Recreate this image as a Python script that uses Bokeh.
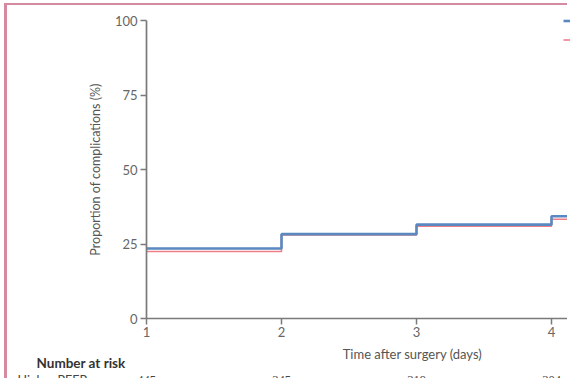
from bokeh.plotting import figure
from bokeh.models import Range1d, Label, LabelSet, Legend, LegendItem, FixedTicker, ColumnDataSource
from bokeh.embed import file_html
from bokeh.resources import INLINE

# ---- data ----
days = [1, 2, 3, 4, 5]
higher_peep = [23.5, 28.3, 31.5, 34.3, 34.3]
lower_peep = [22.5, 28.0, 31.0, 33.3, 33.3]
x_ticks = [1, 2, 3, 4]
y_ticks = [0, 25, 50, 75, 100]
risk_days = [1, 2, 3, 4]
risk_higher = [445, 345, 319, 304]
series_names = ["Higher PEEP group", "Lower PEEP group"]

FONT = "Lato"
BLUE = "#5a88c0"
RED = "#ee7f88"
AXIS = "#7a7a7a"

# ---- geometry (canvas = plot frame) ----
W, H = 563, 375
X0 = 139          # canvas x of day 1
PX_DAY = 135.0    # pixels per day
Y0 = 313          # canvas y of 0 %
PX_PCT = 2.98     # pixels per percent

p = figure(width=W, height=H,
           x_range=Range1d(1 - X0 / PX_DAY, 1 + (W - X0) / PX_DAY),
           y_range=Range1d(-(H - Y0) / PX_PCT, Y0 / PX_PCT),
           min_border_left=0, min_border_right=0, min_border_top=0, min_border_bottom=0,
           output_backend="svg", toolbar_location=None)
p.styles = {"margin-left": "4px", "margin-top": "3px",
            "border-left": "3px solid #d48ba0", "border-top": "2px solid #d48ba0"}
p.outline_line_color = None
p.xgrid.visible = False
p.ygrid.visible = False
p.background_fill_color = "white"
p.border_fill_color = "white"

r_red = p.step(days, lower_peep, mode="after", line_color=RED, line_width=1.6)
r_blue = p.step(days, higher_peep, mode="after", line_color=BLUE, line_width=2.6)

for ax in (p.xaxis[0], p.yaxis[0]):
    ax.axis_line_color = AXIS
    ax.axis_line_width = 1.7
    ax.major_tick_line_color = AXIS
    ax.major_tick_line_width = 1.5
    ax.major_tick_out = 6
    ax.major_tick_in = 0
    ax.minor_tick_line_color = None
    ax.major_label_text_font = FONT
    ax.major_label_text_font_size = "13px"
    ax.major_label_text_color = "#666666"

p.xaxis.fixed_location = 0
p.yaxis.fixed_location = 1
p.xaxis.bounds = (1, days[-1])
p.yaxis.bounds = (0, 100)
p.xaxis.ticker = FixedTicker(ticks=x_ticks)
p.yaxis.ticker = FixedTicker(ticks=y_ticks)
p.xaxis.major_label_standoff = 2
p.yaxis.major_label_standoff = 3
p.yaxis.axis_label = "Proportion of complications (%)"
p.yaxis.axis_label_text_font = FONT
p.yaxis.axis_label_text_font_size = "12.5px"
p.yaxis.axis_label_text_font_style = "normal"
p.yaxis.axis_label_text_color = "#555555"
p.yaxis.axis_label_standoff = 9

def sy(page_y):
    return (318 - page_y) / PX_PCT

def sx(page_x):
    return 1 + (page_x - 146) / PX_DAY

# x axis title
p.add_layout(Label(x=sx(412), y=sy(353), text="Time after surgery (days)", text_align="center",
                   text_baseline="middle", text_font=FONT, text_font_size="13px",
                   text_color="#555555"))

# number at risk
p.add_layout(Label(x=sx(36), y=sy(362), text="Number at risk", text_align="left",
                   text_baseline="middle", text_font=FONT, text_font_size="13.5px",
                   text_font_style="bold", text_color="#333333"))
p.add_layout(Label(x=sx(17), y=sy(379.5), text=series_names[0], text_align="left",
                   text_baseline="middle", text_font=FONT, text_font_size="12.5px",
                   text_color="#444444"))
src = ColumnDataSource(dict(x=risk_days, y=[sy(379.5)] * len(risk_days),
                            t=[str(v) for v in risk_higher]))
p.add_layout(LabelSet(x="x", y="y", text="t", source=src, text_align="center",
                      text_baseline="middle", text_font=FONT, text_font_size="12.5px",
                      text_color="#444444"))

legend = Legend(items=[LegendItem(label=series_names[0], renderers=[r_blue]),
                       LegendItem(label=series_names[1], renderers=[r_red])],
                location=(556, 331.5), padding=0, margin=0, spacing=0,
                glyph_height=19, glyph_width=20, label_height=19, label_standoff=6,
                border_line_color=None, background_fill_alpha=0,
                label_text_font=FONT, label_text_font_size="12px", label_text_color="#444444")
p.add_layout(legend)

open("out.html", "w").write(file_html(p, INLINE))
